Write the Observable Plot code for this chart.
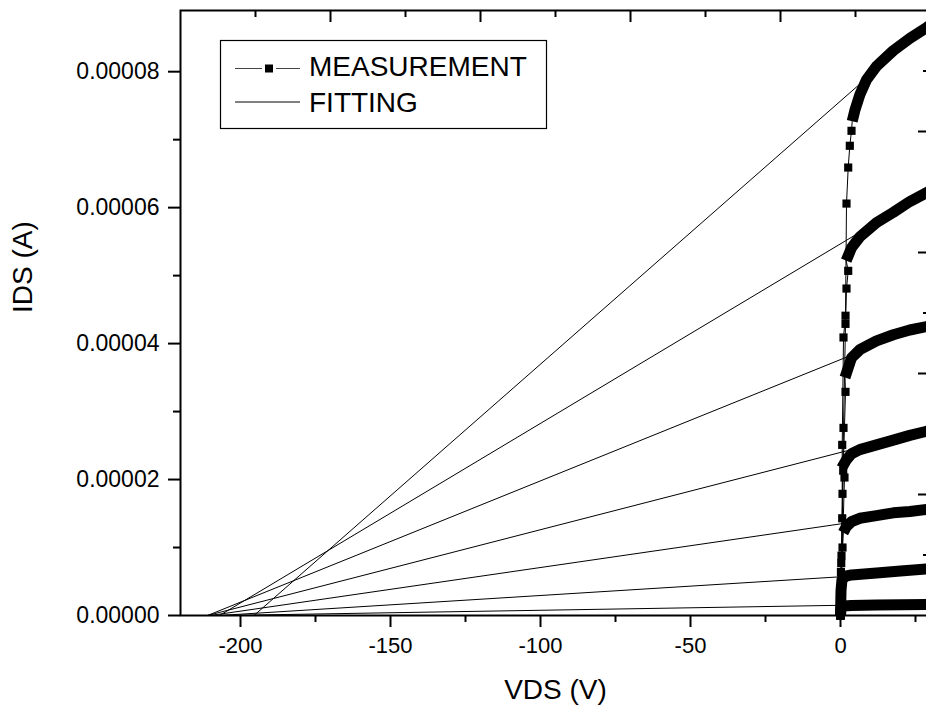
<!DOCTYPE html>
<html><head><meta charset="utf-8">
<script src="https://cdn.jsdelivr.net/npm/d3@7"></script>
<script src="https://cdn.jsdelivr.net/npm/@observablehq/plot@0.6"></script>
<style>
html,body{margin:0;padding:0;background:#fff;overflow:hidden;}
#wrap{position:relative;width:926px;height:707px;overflow:hidden;}
#wrap svg{max-width:none !important;}
#legend{position:absolute;left:0;top:0;}
</style></head><body><div id="wrap"></div>
<script>
// ---------- tick values ----------
const xMajorTicks = [-200, -150, -100, -50, 0];
const xMinorTicks = [-175, -125, -75, -25, 25];
const yMajorTicks = [0, 0.00002, 0.00004, 0.00006, 0.00008];
const yMinorTicks = [0.00001, 0.00003, 0.00005, 0.00007];
const topMajorTicks = [-170, -120, -70, -20];
const topMinorTicks = [-195, -145, -95, -45, 5];
const rightMajorTicks = [0.0000178, 0.0000356, 0.0000534, 0.0000712];
const rightMinorTicks = [0.0000089, 0.0000267, 0.0000445, 0.0000623, 0.0000801];

const xTitle = "VDS (V)";
const yTitle = "IDS (A)";
const seriesLabels = ["MEASUREMENT", "FITTING"];

// ---------- measurement: steep (linear) region, sparse points ----------
const c1SteepV = [0, 0.57, 0.57, 1.0, 1.67, 2.0, 2.57, 3.1, 3.67];
const c1SteepI = [0, 1.43e-5, 2.51e-5, 4.09e-5, 4.41e-5, 6.06e-5, 6.59e-5, 6.91e-5, 7.13e-5];
const c2SteepV = [0, 0.67, 1.0, 1.67, 2.0, 2.57];
const c2SteepI = [0, 1.79e-5, 2.76e-5, 4.29e-5, 4.81e-5, 5.07e-5];
const c3SteepV = [0, 0.9, 1.67];
const c3SteepI = [0, 2.13e-5, 3.29e-5];
const c4SteepV = [0, 1.33];
const c4SteepI = [0, 2.03e-5];
const c5SteepV = [0, 0.15, 0.25, 0.33, 0.67];
const c5SteepI = [0, 6.4e-6, 7.7e-6, 8.8e-6, 1.0e-5];
const c6SteepV = [];
const c6SteepI = [];
const c7SteepV = [];
const c7SteepI = [];

// ---------- measurement: saturation region, dense points ----------
const c1BandV = [3.9, 4.78, 6.44, 8.67, 12, 17.6, 23.1, 28.7, 30];
const c1BandI = [7.27e-5, 7.43e-5, 7.66e-5, 7.88e-5, 8.08e-5, 8.31e-5, 8.49e-5, 8.65e-5, 8.69e-5];
const c2BandV = [1.9, 3.67, 6.43, 12, 17.6, 23.1, 28.7, 30];
const c2BandI = [5.22e-5, 5.41e-5, 5.57e-5, 5.78e-5, 5.93e-5, 6.09e-5, 6.22e-5, 6.25e-5];
const c3BandV = [1.5, 3.67, 6.43, 12, 17.6, 23.1, 28.7, 30];
const c3BandI = [3.5e-5, 3.79e-5, 3.91e-5, 4.04e-5, 4.13e-5, 4.2e-5, 4.25e-5, 4.27e-5];
const c4BandV = [0.4, 2, 3.67, 6.43, 12, 17.6, 23.1, 28.7, 30];
const c4BandI = [2.17e-5, 2.29e-5, 2.38e-5, 2.44e-5, 2.51e-5, 2.58e-5, 2.65e-5, 2.71e-5, 2.72e-5];
const c5BandV = [0.9, 2, 3.67, 6.43, 12, 17.6, 23.1, 28.7, 30];
const c5BandI = [1.22e-5, 1.31e-5, 1.38e-5, 1.43e-5, 1.47e-5, 1.51e-5, 1.53e-5, 1.56e-5, 1.565e-5];
const c6BandV = [0, 0.17, 0.5, 2, 3.67, 12, 20, 28.7, 30];
const c6BandI = [0, 3.68e-6, 5.3e-6, 5.81e-6, 5.96e-6, 6.25e-6, 6.55e-6, 6.84e-6, 6.88e-6];
const c7BandV = [0, 0.17, 1, 3.67, 12, 28.7, 30];
const c7BandI = [0, 1.0e-6, 1.4e-6, 1.47e-6, 1.54e-6, 1.62e-6, 1.63e-6];

// ---------- fitting lines: x-intercept and value at the end ----------
const fitStartV = [-195.5, -207, -211, -211, -210, -207, -205];
const fitEndV = 30;
const fitEndI = [8.73e-5, 6.26e-5, 4.30e-5, 2.74e-5, 1.54e-5, 6.52e-6, 1.72e-6];

// ---------- build tables ----------
const curves = [
  [c1SteepV, c1SteepI, c1BandV, c1BandI],
  [c2SteepV, c2SteepI, c2BandV, c2BandI],
  [c3SteepV, c3SteepI, c3BandV, c3BandI],
  [c4SteepV, c4SteepI, c4BandV, c4BandI],
  [c5SteepV, c5SteepI, c5BandV, c5BandI],
  [c6SteepV, c6SteepI, c6BandV, c6BandI],
  [c7SteepV, c7SteepI, c7BandV, c7BandI]
];
const steepRows = [], bandRows = [], allRows = [];
curves.forEach(([sv, si, bv, bi], k) => {
  sv.forEach((v, j) => { const r = {k, v, i: si[j]}; steepRows.push(r); allRows.push(r); });
  bv.forEach((v, j) => { const r = {k, v, i: bi[j]}; bandRows.push(r); allRows.push(r); });
});
const fitRows = [];
fitStartV.forEach((v0, k) => {
  fitRows.push({k, v: v0, i: 0});
  fitRows.push({k, v: fitEndV, i: fitEndI[k]});
});

const font = '"Liberation Sans", Arial, Helvetica, sans-serif';
const W = 945, H = 707, ML = 180, MR = 15, MT = 10, MB = 92;
const FW = W - ML - MR, FH = H - MT - MB;

const chart = Plot.plot({
  width: W, height: H,
  marginLeft: ML, marginRight: MR, marginTop: MT, marginBottom: MB,
  x: {domain: [-220, 30], axis: null},
  y: {domain: [0, 8.9e-5], axis: null},
  style: {fontFamily: font, background: "white", color: "black", overflow: "visible", maxWidth: "none"},
  marks: [
    Plot.line(fitRows, {x: "v", y: "i", z: "k", stroke: "black", strokeWidth: 1, clip: true}),
    Plot.line(allRows, {x: "v", y: "i", z: "k", stroke: "black", strokeWidth: 1, clip: true}),
    Plot.line(bandRows, {x: "v", y: "i", z: "k", stroke: "black", strokeWidth: 11, strokeLinejoin: "round", strokeLinecap: "butt", clip: true}),
    Plot.dot(steepRows, {x: "v", y: "i", symbol: "square", r: 4.6, fill: "black", stroke: null}),
    Plot.frame({stroke: "black", strokeWidth: 2}),
    // bottom axis
    Plot.tickX(xMajorTicks, {x: d => d, insetTop: FH, insetBottom: -12, stroke: "black", strokeWidth: 2}),
    Plot.tickX(xMinorTicks, {x: d => d, insetTop: FH, insetBottom: -7, stroke: "black", strokeWidth: 2}),
    Plot.text(xMajorTicks, {x: d => d, text: d => String(d), frameAnchor: "bottom", dy: 22, lineAnchor: "top", fontSize: 22, fill: "black"}),
    // left axis
    Plot.tickY(yMajorTicks, {y: d => d, insetLeft: -12, insetRight: FW, stroke: "black", strokeWidth: 2}),
    Plot.tickY(yMinorTicks, {y: d => d, insetLeft: -7, insetRight: FW, stroke: "black", strokeWidth: 2}),
    Plot.text(yMajorTicks, {y: d => d, text: d => d3.format(".5f")(d), frameAnchor: "left", dx: -21, textAnchor: "end", fontSize: 23, fill: "black"}),
    // top axis (inward ticks)
    Plot.tickX(topMajorTicks, {x: d => d, insetBottom: FH - 12, stroke: "black", strokeWidth: 2}),
    Plot.tickX(topMinorTicks, {x: d => d, insetBottom: FH - 7, stroke: "black", strokeWidth: 2}),
    // right axis (inward ticks)
    Plot.tickY(rightMajorTicks, {y: d => d, insetLeft: FW - 12, stroke: "black", strokeWidth: 2}),
    Plot.tickY(rightMinorTicks, {y: d => d, insetLeft: FW - 7, stroke: "black", strokeWidth: 2}),
    // titles
    Plot.text([xTitle], {text: d => d, frameAnchor: "bottom", dy: 83, lineAnchor: "bottom", fontSize: 28, fill: "black"}),
    Plot.text([yTitle], {text: d => d, frameAnchor: "left", dx: -157, rotate: -90, fontSize: 28, fill: "black"})
  ]
});
const wrap = document.getElementById("wrap");
wrap.appendChild(chart);

// ---------- legend ----------
const ns = "http://www.w3.org/2000/svg";
const lg = document.createElementNS(ns, "svg");
lg.setAttribute("id", "legend");
lg.setAttribute("width", 926);
lg.setAttribute("height", 707);
lg.style.fontFamily = font;
function el(name, attrs) {
  const e = document.createElementNS(ns, name);
  for (const k in attrs) e.setAttribute(k, attrs[k]);
  lg.appendChild(e);
  return e;
}
el("rect", {x: 220.5, y: 40.5, width: 326, height: 88, fill: "white", stroke: "black", "stroke-width": 1.2});
// measurement symbol
el("line", {x1: 235, x2: 262, y1: 68.5, y2: 68.5, stroke: "#444", "stroke-width": 1});
el("line", {x1: 276, x2: 300, y1: 68.5, y2: 68.5, stroke: "#444", "stroke-width": 1});
el("rect", {x: 265, y: 64.5, width: 8, height: 8, fill: "black"});
el("text", {x: 309, y: 75.5, "font-size": 28, fill: "black"}).textContent = seriesLabels[0];
// fitting symbol
el("line", {x1: 235, x2: 300, y1: 102, y2: 102, stroke: "black", "stroke-width": 1});
el("text", {x: 309, y: 112, "font-size": 28, fill: "black"}).textContent = seriesLabels[1];
wrap.appendChild(lg);
</script>
</body></html>
